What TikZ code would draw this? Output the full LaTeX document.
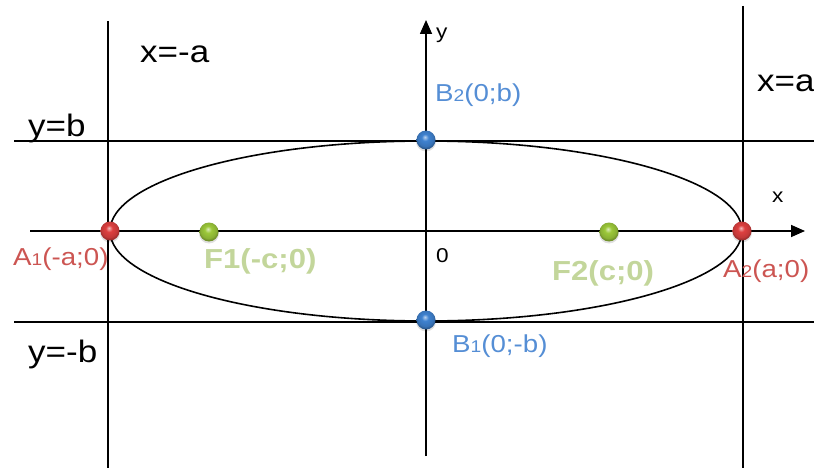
\documentclass[tikz,border=0pt]{standalone}
\usepackage{fontspec}
\setmainfont{Liberation Sans}[FakeStretch=1.13]
\usetikzlibrary{arrows.meta}
\definecolor{redlab}{HTML}{CC5552}
\definecolor{bluelab}{HTML}{558ED5}
\definecolor{greenlab}{HTML}{C3D69B}
\definecolor{redball}{HTML}{DD4040}
\definecolor{blueball}{HTML}{3F82D0}
\definecolor{greenball}{HTML}{9CC83A}
\pgfdeclareradialshading{rballsh}{\pgfqpoint{-3bp}{8bp}}{color(0bp)=(redball!35!white); color(9bp)=(redball); color(21bp)=(redball!88!black); color(25bp)=(redball!72!black); color(50bp)=(redball!72!black)}
\pgfdeclareradialshading{bballsh}{\pgfqpoint{-3bp}{8bp}}{color(0bp)=(blueball!35!white); color(9bp)=(blueball); color(21bp)=(blueball!88!black); color(25bp)=(blueball!72!black); color(50bp)=(blueball!72!black)}
\pgfdeclareradialshading{gballsh}{\pgfqpoint{-3bp}{8bp}}{color(0bp)=(greenball!35!white); color(9bp)=(greenball); color(21bp)=(greenball!88!black); color(25bp)=(greenball!72!black); color(50bp)=(greenball!72!black)}
\newcommand{\sdig}[1]{{\fontsize{17}{17}\selectfont #1}}
\begin{document}
\begin{tikzpicture}[x=1pt,y=-1pt,
  ln/.style={line width=1.6pt,black},
  axis/.style={ln,-{Triangle[length=14pt,width=12pt]}},
  big/.style={inner sep=0pt,anchor=base west,font=\fontsize{31}{31}\selectfont},
  mid/.style={inner sep=0pt,anchor=base west,font=\fontsize{24.5}{25}\selectfont},
  bmid/.style={inner sep=0pt,anchor=base west,font=\fontsize{27.5}{28}\selectfont\bfseries,text=greenlab},
  small/.style={inner sep=0pt,anchor=base west,font=\fontsize{20}{20}\selectfont}]
\useasboundingbox (0,0) rectangle (814,468);
% coordinates
\coordinate (O) at (426,231);
\coordinate (xs) at (30,231);
\coordinate (xe) at (805,231);
\coordinate (ys) at (426,456);
\coordinate (ye) at (426,20);
\coordinate (la1) at (108,21);
\coordinate (la2) at (108,468);
\coordinate (ra1) at (743,6);
\coordinate (ra2) at (743,468);
\coordinate (tb1) at (14,141);
\coordinate (tb2) at (814,141);
\coordinate (bb1) at (14,322);
\coordinate (bb2) at (814,322);
\coordinate (A1) at (110,231);
\coordinate (A2) at (742,231);
\coordinate (B2) at (426,140);
\coordinate (B1) at (426,320);
\coordinate (F1) at (209,232);
\coordinate (F2) at (609,232);
% lines
\draw[ln] (la1) -- (la2);
\draw[ln] (ra1) -- (ra2);
\draw[ln] (tb1) -- (tb2);
\draw[ln] (bb1) -- (bb2);
\draw[axis] (xs) -- (xe);
\draw[axis] (ys) -- (ye);
\draw[ln] (O) ellipse [x radius=316pt, y radius=90pt];
% balls
\foreach \p/\s in {A1/rballsh,A2/rballsh,B1/bballsh,B2/bballsh,F1/gballsh,F2/gballsh}{
  \fill[black,opacity=0.12] ([yshift=-1.5pt]\p) circle (10pt);
  \shade[shading=\s] (\p) circle (9.5pt);
}
% labels
\node[big] (lxa) at (140,63) {x=-a};
\node[big] (lxb) at (757,92) {x=a};
\node[big] (lyb) at (28,137) {y=b};
\node[big] (lyc) at (28,362) {y=-b};
\node[small] (lx) at (772,202) {x};
\node[small] (ly) at (436,39) {y};
\node[small] (lo) at (436,262) {0};
\node[mid,text=redlab] (lA1) at (13,265) {A\sdig{1}(-a;0)};
\node[mid,text=redlab] (lA2) at (723,277) {A\sdig{2}(a;0)};
\node[mid,text=bluelab] (lB2) at (435,102) {B\sdig{2}(0;b)};
\node[mid,text=bluelab] (lB1) at (452,352) {B\sdig{1}(0;-b)};
\node[bmid] (lF1) at (204,268) {F1(-c;0)};
\node[bmid] (lF2) at (552,280) {F2(c;0)};
\end{tikzpicture}
\end{document}
